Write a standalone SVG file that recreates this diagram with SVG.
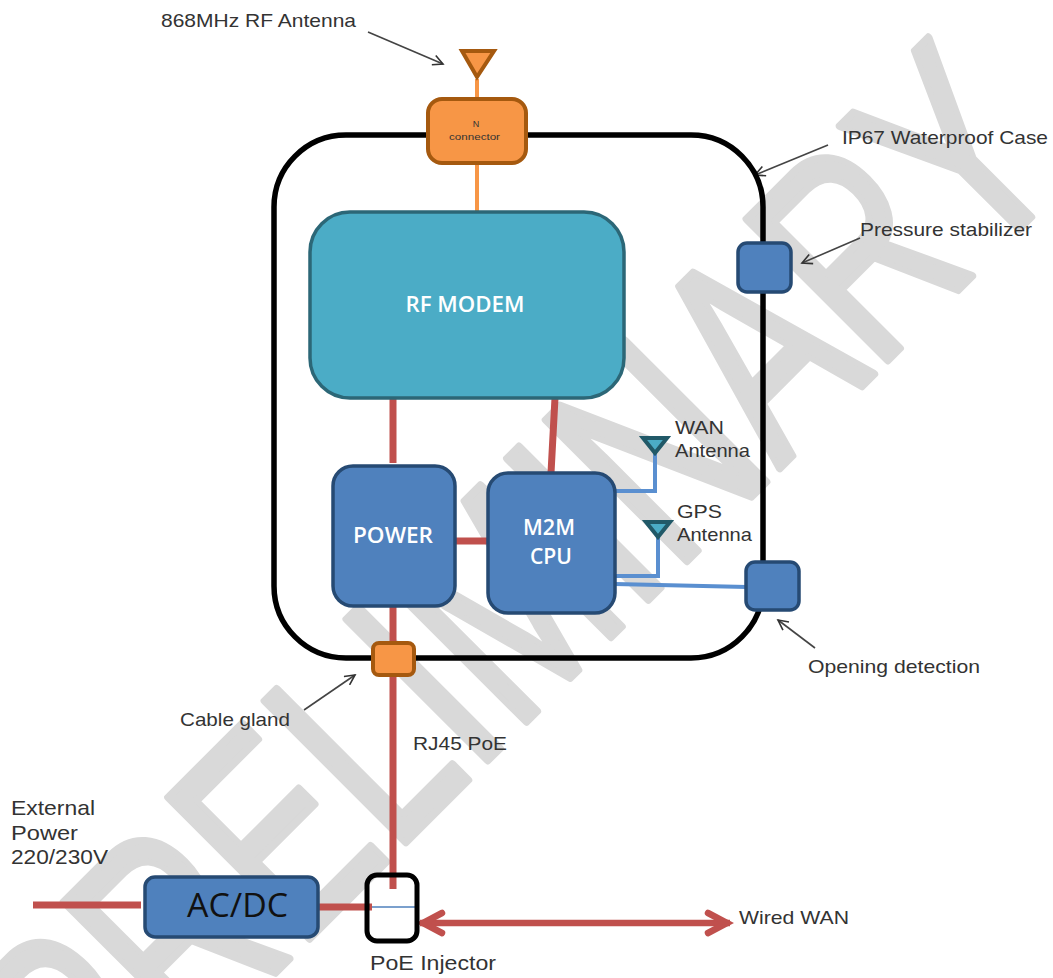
<svg xmlns="http://www.w3.org/2000/svg" width="1053" height="978" viewBox="0 0 1053 978">
<style>
text{font-family:"Liberation Sans",Arial,sans-serif}
.l{font-size:19px;fill:#333}
.b{font-size:21px;fill:#333}
.w{font-family:"Open Sans","Noto Sans",sans-serif;font-size:21px;fill:#fff;font-weight:600;text-anchor:middle}
.blue{fill:#4f81bd;stroke:#264a73;stroke-width:3.5}
.or{fill:#f79646;stroke:#a5590f;stroke-width:4}
.red{stroke:#c0504d;fill:none}
.bl{stroke:#5a8fd0;stroke-width:4;fill:none}
.ptr{stroke:#444;stroke-width:1.6;fill:none}
</style>
<defs>
<marker id="op" markerWidth="14" markerHeight="12" refX="12" refY="6" orient="auto" markerUnits="userSpaceOnUse"><path d="M2 1L12 6L2 11" fill="none" stroke="#333" stroke-width="1.6"/></marker>
<marker id="rh" markerWidth="32" markerHeight="30" refX="28" refY="15" orient="auto-start-reverse" markerUnits="userSpaceOnUse"><path d="M6 5L25 15L6 25" fill="none" stroke="#c0504d" stroke-width="6.500" stroke-linecap="round"/></marker>
</defs>
<rect width="1053" height="978" fill="#fff"/>
<g id="watermark"><text transform="translate(96,1152) rotate(-45) scale(.705,1)" font-size="290" fill="#d9d9d9" stroke="#d9d9d9" stroke-width="8" stroke-linejoin="round">PRELIMINARY</text></g>
<g id="connectors">
<path d="M477 79V98M477 163V212" stroke="#f79646" stroke-width="4" fill="none"/>
<path class="red" stroke-width="7" d="M393 398V463M555 398L551 473M452 541H490"/>
<path class="red" stroke-width="7" d="M393 606V643M393 675V889M33 905H141M313 907H372"/>
<path class="red" stroke-width="6.500" d="M420 923H730" marker-start="url(#rh)" marker-end="url(#rh)"/>
<path d="M372 907H417" stroke="#4f81bd" stroke-width="1.5"/>
<path class="bl" d="M615 491H655V450M615 576H658V534M615 584L747 587"/>
<path class="ptr" d="M368 32L443 64" marker-end="url(#op)"/>
<path class="ptr" d="M828 145L755 175" marker-end="url(#op)"/>
<path class="ptr" d="M860 238L802 263" marker-end="url(#op)"/>
<path class="ptr" d="M815 648L778 620" marker-end="url(#op)"/>
<path class="ptr" d="M304 710L355 675" marker-end="url(#op)"/>
</g>
<g id="case"><rect x="274" y="135" width="489" height="523" rx="72" fill="none" stroke="#000" stroke-width="5.500"/></g>
<g id="antenna"><path class="or" d="M462 51H494L477 77Z" stroke-width="5"/></g>
<g id="n-connector"><rect class="or" x="428" y="99" width="98" height="64" rx="14"/><text x="476" y="127" font-size="9" text-anchor="middle" fill="#333">N</text><text x="449" y="140" font-size="9.500" textLength="51" lengthAdjust="spacingAndGlyphs" fill="#333">connector</text></g>
<g id="rf-modem"><rect x="310" y="212" width="314" height="186" rx="40" fill="#4bacc6" stroke="#2c6777" stroke-width="3.500"/><text class="w" x="465" y="312" textLength="119" lengthAdjust="spacingAndGlyphs">RF MODEM</text></g>
<g id="power"><rect class="blue" x="333" y="466" width="122" height="140" rx="20"/><text class="w" x="393" y="543" textLength="80" lengthAdjust="spacingAndGlyphs">POWER</text></g>
<g id="m2m-cpu"><rect class="blue" x="488" y="473" width="127" height="140" rx="20"/><text class="w" x="549" y="535" textLength="52" lengthAdjust="spacingAndGlyphs">M2M</text><text class="w" x="551" y="564" textLength="42" lengthAdjust="spacingAndGlyphs">CPU</text></g>
<g id="wan-antenna"><path d="M643 438H667L655 453Z" fill="#4bacc6" stroke="#215968" stroke-width="4"/><text class="l" x="675" y="434" textLength="49" lengthAdjust="spacingAndGlyphs">WAN</text><text class="l" x="675" y="457" textLength="75" lengthAdjust="spacingAndGlyphs">Antenna</text></g>
<g id="gps-antenna"><path d="M646 522H670L658 537Z" fill="#4bacc6" stroke="#215968" stroke-width="4"/><text class="l" x="677" y="518" textLength="45" lengthAdjust="spacingAndGlyphs">GPS</text><text class="l" x="677" y="541" textLength="75" lengthAdjust="spacingAndGlyphs">Antenna</text></g>
<g id="pressure"><rect class="blue" x="738" y="243" width="53" height="49" rx="9"/></g>
<g id="opening"><rect class="blue" x="746" y="562" width="53" height="48" rx="9"/></g>
<g id="gland"><rect class="or" x="373" y="643" width="41" height="32" rx="6"/></g>
<g id="acdc"><rect class="blue" x="145" y="877" width="173" height="60" rx="10"/><text x="187" y="917" font-size="33" textLength="101" lengthAdjust="spacingAndGlyphs" fill="#111" style="font-family:'Open Sans',sans-serif">AC/DC</text></g>
<g id="poe"><rect x="367" y="875" width="50" height="66" rx="10" fill="none" stroke="#000" stroke-width="5"/></g>
<g id="labels">
<text class="l" x="161" y="27" textLength="195" lengthAdjust="spacingAndGlyphs">868MHz RF Antenna</text>
<text class="l" x="842" y="144" textLength="206" lengthAdjust="spacingAndGlyphs">IP67 Waterproof Case</text>
<text class="l" x="860" y="236" textLength="172" lengthAdjust="spacingAndGlyphs">Pressure stabilizer</text>
<text class="l" x="808" y="673" textLength="172" lengthAdjust="spacingAndGlyphs">Opening detection</text>
<text class="l" x="180" y="726" textLength="110" lengthAdjust="spacingAndGlyphs">Cable gland</text>
<text class="l" x="413" y="750" textLength="94" lengthAdjust="spacingAndGlyphs">RJ45 PoE</text>
<text class="b" x="11" y="815" textLength="84" lengthAdjust="spacingAndGlyphs">External</text>
<text class="b" x="11" y="840" textLength="67" lengthAdjust="spacingAndGlyphs">Power</text>
<text class="b" x="11" y="864" textLength="97" lengthAdjust="spacingAndGlyphs">220/230V</text>
<text class="b" x="370" y="970" textLength="126" lengthAdjust="spacingAndGlyphs">PoE Injector</text>
<text class="l" x="739" y="924" textLength="110" lengthAdjust="spacingAndGlyphs">Wired WAN</text>
</g>
</svg>
